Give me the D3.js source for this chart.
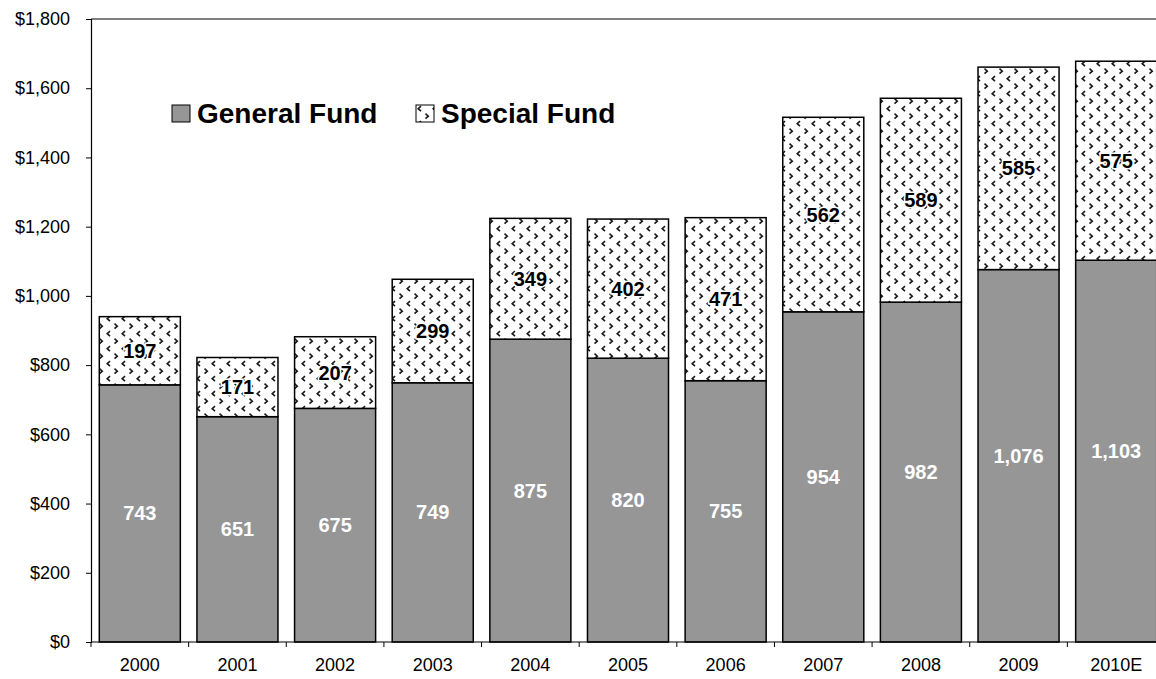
<!DOCTYPE html>
<html>
<head>
<meta charset="utf-8">
<script src="https://cdn.jsdelivr.net/npm/d3@7"></script>
<style>
  html, body { margin: 0; padding: 0; background: #fff; }
  svg { display: block; font-family: "Liberation Sans", Arial, sans-serif; }
</style>
</head>
<body>
<svg id="chart" width="1156" height="679"></svg>
<script>
// Annual spending, in millions of dollars
const years = ["2000", "2001", "2002", "2003", "2004", "2005", "2006", "2007", "2008", "2009", "2010E"];
const generalFund = [743, 651, 675, 749, 875, 820, 755, 954, 982, 1076, 1103];
const specialFund = [197, 171, 207, 299, 349, 402, 471, 562, 589, 585, 575];
const yTicks = [0, 200, 400, 600, 800, 1000, 1200, 1400, 1600, 1800];
const seriesNames = ["General Fund", "Special Fund"];

const svg = d3.select("#chart");
const margin = { left: 91, top: 19, right: 1165, bottom: 642 };

// Chevron hatch for the special fund segments
const defs = svg.append("defs");
const pat = defs.append("pattern")
  .attr("id", "chevrons")
  .attr("patternUnits", "userSpaceOnUse")
  .attr("width", 15).attr("height", 15)
  .attr("x", 0).attr("y", 0);
pat.append("rect").attr("width", 15).attr("height", 15).attr("fill", "#fff");
pat.append("path")
  .attr("d", "M5,1.2 L2.2,3.7 L5,6.2")
  .attr("fill", "none").attr("stroke", "#1a1a1a").attr("stroke-width", 1.6);
pat.append("path")
  .attr("d", "M9.5,8.7 L12.3,11.2 L9.5,13.7")
  .attr("fill", "none").attr("stroke", "#1a1a1a").attr("stroke-width", 1.6);

const x = d3.scaleBand()
  .domain(years)
  .range([margin.left, margin.right])
  .paddingInner(0.17)
  .paddingOuter(0.085);

const y = d3.scaleLinear()
  .domain([0, 1800])
  .range([margin.bottom, margin.top]);

const rows = years.map((yr, i) => ({ year: yr, gen: generalFund[i], spec: specialFund[i] }));

// Plot frame: top and right edges
svg.append("path")
  .attr("d", `M${margin.left},${margin.top}H${margin.right}V${margin.bottom}`)
  .attr("fill", "none").attr("stroke", "#000").attr("stroke-width", 1);

// Bars
const g = svg.append("g");
g.selectAll("rect.gen").data(rows).join("rect")
  .attr("class", "gen")
  .attr("x", d => x(d.year))
  .attr("width", x.bandwidth())
  .attr("y", d => y(d.gen))
  .attr("height", d => y(0) - y(d.gen))
  .attr("fill", "#969696")
  .attr("stroke", "#000").attr("stroke-width", 1.5);

g.selectAll("rect.spec").data(rows).join("rect")
  .attr("class", "spec")
  .attr("x", d => x(d.year))
  .attr("width", x.bandwidth())
  .attr("y", d => y(d.gen + d.spec))
  .attr("height", d => y(d.gen) - y(d.gen + d.spec))
  .attr("fill", "url(#chevrons)")
  .attr("stroke", "#000").attr("stroke-width", 1.5);

// Value labels
const fmt = d3.format(",");
g.selectAll("text.gen").data(rows).join("text")
  .attr("class", "gen")
  .attr("x", d => x(d.year) + x.bandwidth() / 2)
  .attr("y", d => (y(0) + y(d.gen)) / 2)
  .attr("dy", "0.35em")
  .attr("text-anchor", "middle")
  .attr("font-weight", "bold").attr("font-size", 20)
  .attr("fill", "#fff")
  .text(d => fmt(d.gen));

g.selectAll("text.spec").data(rows).join("text")
  .attr("class", "spec")
  .attr("x", d => x(d.year) + x.bandwidth() / 2)
  .attr("y", d => (y(d.gen) + y(d.gen + d.spec)) / 2)
  .attr("dy", "0.35em")
  .attr("text-anchor", "middle")
  .attr("font-weight", "bold").attr("font-size", 20)
  .attr("fill", "#000")
  .attr("stroke", "#fff").attr("stroke-width", 3)
  .attr("paint-order", "stroke")
  .text(d => fmt(d.spec));

// Y axis
const yAxis = svg.append("g")
  .attr("transform", `translate(${margin.left},0)`)
  .call(d3.axisLeft(y).tickValues(yTicks).tickSize(5).tickPadding(16)
    .tickFormat(d => "$" + fmt(d)));
yAxis.attr("font-size", null).attr("font-family", null);
yAxis.select(".domain").attr("stroke", "#000").attr("stroke-width", 1.2);
yAxis.selectAll(".tick line").attr("stroke", "#000");
yAxis.selectAll("text").attr("font-size", 18).attr("fill", "#000");

// X axis with ticks between categories
const xAxis = svg.append("g").attr("transform", `translate(0,${margin.bottom})`);
xAxis.append("line")
  .attr("x1", margin.left).attr("x2", margin.right)
  .attr("stroke", "#000").attr("stroke-width", 1.2);
const bounds = d3.range(years.length + 1).map(i => margin.left + i * x.step());
xAxis.selectAll("line.tk").data(bounds).join("line")
  .attr("class", "tk")
  .attr("x1", d => d).attr("x2", d => d)
  .attr("y1", 0).attr("y2", 5)
  .attr("stroke", "#000");
xAxis.selectAll("text").data(years).join("text")
  .attr("x", d => x(d) + x.bandwidth() / 2)
  .attr("y", 29)
  .attr("text-anchor", "middle")
  .attr("font-size", 18)
  .text(d => d);

// Legend
const legend = svg.append("g").attr("transform", "translate(172,105)");
const legendItems = [
  { name: seriesNames[0], fill: "#969696", dx: 0 },
  { name: seriesNames[1], fill: "url(#chevrons)", dx: 244 }
];
const li = legend.selectAll("g").data(legendItems).join("g")
  .attr("transform", d => `translate(${d.dx},0)`);
li.append("rect")
  .attr("width", 18).attr("height", 17)
  .attr("fill", d => d.fill)
  .attr("stroke", "#000").attr("stroke-width", 1);
li.append("text")
  .attr("x", 25).attr("y", 18)
  .attr("font-size", 28).attr("font-weight", "bold")
  .text(d => d.name);
</script>
</body>
</html>
